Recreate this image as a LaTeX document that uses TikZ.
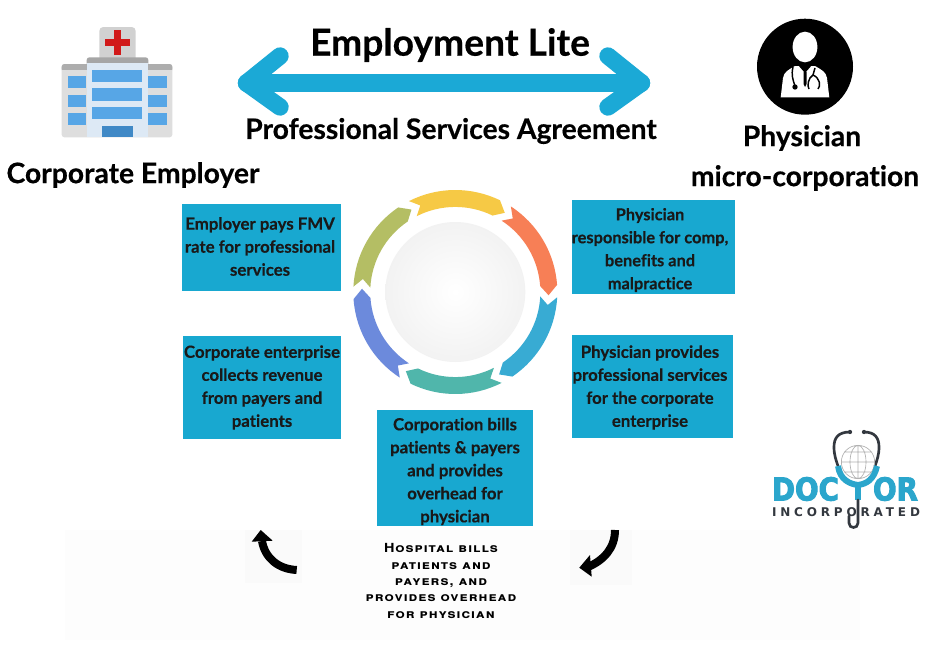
\documentclass[tikz,border=0pt]{standalone}
\usepackage{fontspec}
\setmainfont{Lato}[BoldFont={Lato Bold},Ligatures=NoCommon,BoldFeatures={FakeBold=0.4}]
\newfontfamily\capfont[Letters=SmallCaps,LetterSpace=8,FakeStretch=1.15]{TeX Gyre Heros Bold}
\newfontfamily\logofont[FakeStretch=0.88,FakeBold=3]{DejaVu Sans Bold}
\newfontfamily\subfont[LetterSpace=32]{DejaVu Sans Bold}
\usetikzlibrary{calc}
\definecolor{boxblue}{HTML}{18A8D0}
\definecolor{arrowblue}{HTML}{1BA9D6}
\definecolor{logoblue}{HTML}{2BA6CC}
\definecolor{darktube}{HTML}{33383F}
\definecolor{winblue}{HTML}{57A6E6}
\definecolor{hospfront}{HTML}{DDE9F5}
\definecolor{sgyellow}{HTML}{F6C945}
\definecolor{sgorange}{HTML}{F77F56}
\definecolor{sgblue}{HTML}{38ABD3}
\definecolor{sggreen}{HTML}{50B6AB}
\definecolor{sgperi}{HTML}{6C8ADC}
\definecolor{sgolive}{HTML}{B4BE64}
\tikzset{
 x=0.75pt,y=-0.75pt,
 infobox/.style={fill=boxblue,inner sep=0pt,font=\bfseries\fontsize{12.6}{17.25}\selectfont,text=black!90,align=center,anchor=center},
 title/.style={font=\bfseries,text=black,inner sep=0pt,align=center},
 chevron/.style={draw=arrowblue,line width=13pt,line cap=round,line join=round},
 bendarrow/.style={draw=black,line width=6pt},
 tube/.style={draw=darktube,line width=2pt,line cap=round},
}
\newcommand{\ringseg}[2]{%
 \fill[#2] (#1:76.5pt) arc[start angle=#1,end angle=#1-53,radius=76.5pt]
   -- (#1-59:70pt) -- (#1-53:63.8pt)
   arc[start angle=#1-53,end angle=#1,radius=63.8pt]
   -- (#1-5:70pt) -- cycle;}
\newcommand{\shiftbox}[4]{\vbox{\kern #2\hbox{\kern #1\parbox{#3}{\centering #4}}}}
\begin{document}
\begin{tikzpicture}
\useasboundingbox (0,0) rectangle (932,646);
\fill[white] (0,0) rectangle (932,646);
\fill[black!0.7] (65,530) rectangle (860,640);
\fill[black!2] (245,530) rectangle (302,583);
\fill[black!2] (570,530) rectangle (632,585);

% hospital
\fill[rounded corners=3pt,black!18] (99.3,27) rectangle (135.7,62);
\fill[red!80!black!90] (113.8,30) rectangle (120.8,55.4);
\fill[red!80!black!90] (104.6,39.2) rectangle (130,46.2);
\fill[rounded corners=2pt,fill=black!13] (61.7,64) rectangle (172.3,137.3);
\fill[rounded corners=2pt,fill=black!32] (61.7,64) rectangle (172.3,72);
\fill[black!13] (61.7,70) rectangle (172.3,80);
\fill[rounded corners=2pt,fill=black!35] (86.7,57.3) rectangle (148.3,66);
\fill[hospfront] (86.7,63) rectangle (148.3,137.3);
\foreach \ya/\yb in {70/82.3,88.3/100.7,107/119}{\fill[winblue] (92.3,\ya) rectangle (141.7,\yb);}
\foreach \ya/\yb in {76/88.3,94.7/107,112.7/125.3}{
 \fill[winblue] (67.7,\ya) rectangle (86,\yb);
 \fill[winblue] (148.3,\ya) rectangle (166.7,\yb);}
\fill[blue!45!cyan!70!black!75] (101.7,125.7) rectangle (132.7,137.3);

% doctor
\fill[black] (805,66.7) circle[radius=36pt];
\fill[white] (805,47) ellipse[x radius=9.3pt,y radius=11.5pt];
\fill[white] (780.7,97.3) -- (783,78) .. controls (784,72) and (788,70) .. (795,66) -- (815,66) .. controls (822,70) and (826,72) .. (827,78) -- (829.3,97.3) -- cycle;
\fill[black] (798,65) -- (805,73) -- (812,65) -- cycle;
\fill[black] (803.5,72) -- (806.5,72) -- (806.5,84) -- (805,87) -- (803.5,84) -- cycle;
\draw[black,line width=1.1pt] (793,67) .. controls (791,75) and (793,80) .. (795,86);
\fill[black] (795,87) circle[radius=2pt];
\draw[black,line width=1.1pt] (815,68) -- (813,75) .. controls (808,78) and (807,86) .. (809,89);
\draw[black,line width=1.1pt] (813,75) .. controls (820,78) and (821,86) .. (818,89);

% titles
\node[title,font=\bfseries\fontsize{27.9}{30}\selectfont] (maintitle) at (450,45) {Employment Lite};
\node[title,font=\bfseries\fontsize{21.2}{24}\selectfont] (psa) at (451,131) {Professional Services Agreement};
\node[title,font=\bfseries\fontsize{21.2}{24}\selectfont] (corp) at (133,175) {Corporate Employer};
\node[title,font=\bfseries\fontsize{21.2}{24}\selectfont] (phys) at (802,138) {Physician};
\node[title,font=\bfseries\fontsize{21.2}{24}\selectfont] (micro) at (805,178) {micro-corporation};

% double chevron arrow
\coordinate (al) at (246.5,83); \coordinate (ar) at (641.5,83);
\coordinate (alu) at (280,56); \coordinate (ald) at (280,107);
\coordinate (aru) at (608,56); \coordinate (ard) at (608,107);
\draw[chevron] (al) -- (ar);
\draw[chevron] (alu) -- (al) -- (ald);
\draw[chevron] (aru) -- (ar) -- (ard);

% ring
\begin{scope}[shift={(455.3,292)}]
\ringseg{117}{sgyellow}
\ringseg{57}{sgorange}
\ringseg{-3}{sgblue}
\ringseg{-63}{sggreen}
\ringseg{-123}{sgperi}
\ringseg{-183}{sgolive}
\shade[inner color=white,outer color=black!5] (0,0) circle[radius=52.5pt];
\end{scope}

% boxes
\node[infobox,minimum width=119.25pt,minimum height=65.25pt] (b1) at (261.5,247.5) {\shiftbox{-2.2pt}{-1.5pt}{116pt}{Employer pays FMV\\rate for professional\\services}};
\node[infobox,minimum width=118.5pt,minimum height=77.25pt] (b2) at (262,387.5) {Corporate enterprise\\collects revenue\\from payers and\\patients};
\node[infobox,minimum width=122.25pt,minimum height=70.5pt,font=\bfseries\fontsize{12.3}{17.25}\selectfont] (b3) at (653.5,247) {\shiftbox{-5.2pt}{4.5pt}{122pt}{Physician\\responsible for comp,\\benefits and\\malpractice}};
\node[infobox,minimum width=120.75pt,minimum height=77.25pt] (b4) at (652.5,386.5) {\shiftbox{-3.8pt}{1.5pt}{120pt}{Physician provides\\professional services\\for the corporate\\enterprise}};
\node[infobox,minimum width=117pt,minimum height=87pt] (b5) at (455,468) {\shiftbox{0pt}{5.25pt}{112pt}{Corporation bills\\patients \& payers\\and provides\\overhead for\\physician}};

% bottom text
\node[inner sep=0pt,align=center,font=\capfont\fontsize{9.4}{12.2}\selectfont,text=black] (note) at (441,581) {Hospital bills\\patients and\\payers, and\\provides overhead\\for physician};

% bent arrows
\coordinate (la) at (296.7,570); \coordinate (lb) at (262,541);
\coordinate (ltip) at (260.7,530); \coordinate (lh1) at (251.7,541.7); \coordinate (lh2) at (272.7,540.7);
\draw[bendarrow] (la) .. controls (278,569) and (265,558) .. (lb);
\fill[black] (ltip) -- (lh1) -- (lh2) -- cycle;
\coordinate (ra) at (615,530); \coordinate (rb) at (588,567);
\coordinate (rtip) at (579.3,567.7); \coordinate (rh1) at (590,555); \coordinate (rh2) at (591.7,576.7);
\draw[bendarrow] (ra) .. controls (615,548) and (604,560) .. (rb);
\fill[black] (rtip) -- (rh1) -- (rh2) -- cycle;

% logo
\draw[tube] (850,432) .. controls (838,432) and (834,438) .. (834,447) .. controls (834,455) and (836,460) .. (838,466);
\draw[tube] (864,432) .. controls (875,432) and (879,438) .. (879,447) .. controls (879,455) and (877,460) .. (875,466);
\fill[darktube] (850,432) circle[radius=1.6pt] (864,432) circle[radius=1.6pt];
\draw[black!30,line width=0.5pt] (858,462) circle[radius=12.5pt] ellipse[x radius=6pt,y radius=12.5pt]
  (841.5,462) -- (874.5,462) (844,452) -- (872,452) (844,472) -- (872,472) (858,445.5) -- (858,478);
\node[inner sep=0pt,anchor=center,font=\logofont\fontsize{23.6}{23.6}\selectfont,text=logoblue] (doc) at (805.5,489) {DOC};
\node[inner sep=0pt,anchor=center,font=\logofont\fontsize{23.6}{23.6}\selectfont,text=logoblue] (or) at (895.5,489) {OR};
\draw[logoblue,line width=4.5pt] (838,466) .. controls (840,480) and (850,484) .. (858,485) .. controls (866,484) and (874,480) .. (877,466);
\draw[logoblue,line width=4.5pt] (858,485) -- (858,500);
\node[inner sep=0pt,anchor=center,font=\subfont\fontsize{9}{9}\selectfont,text=darktube] (inc) at (846,512.5) {INCORPORATED};
\draw[tube] (858,500) -- (858,523) .. controls (858,529) and (849,529) .. (849,523) -- (849,516);
\end{tikzpicture}
\end{document}
